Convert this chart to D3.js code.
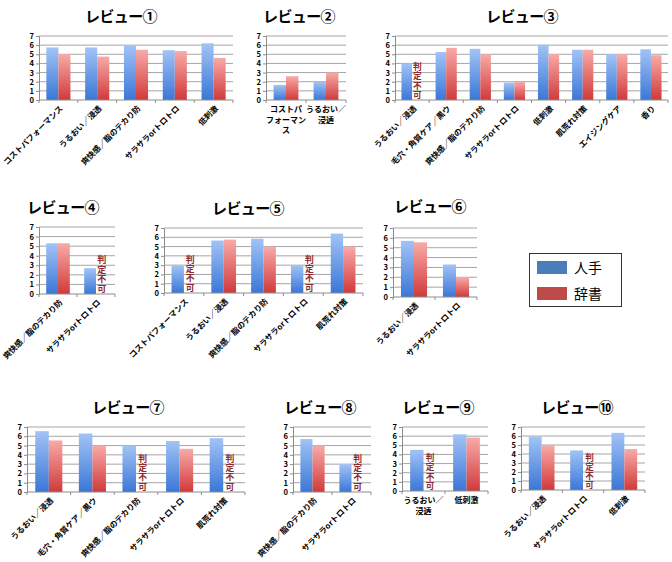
<!DOCTYPE html>
<html><head><meta charset="utf-8">
<script src="https://cdn.jsdelivr.net/npm/d3@7/dist/d3.min.js"></script>
<style>
body{margin:0;background:#fff;}
text{font-family:"Noto Sans CJK JP","Noto Sans",sans-serif;}
</style></head>
<body>
<svg id="chart" width="672" height="562"></svg>
<script>
// ---- data ----
const titles = ["レビュー①","レビュー②","レビュー③","レビュー④","レビュー⑤","レビュー⑥","レビュー⑦","レビュー⑧","レビュー⑨","レビュー⑩"];
const categories1 = ["コストパフォーマンス","うるおい／浸透","爽快感／脂のテカり防","サラサラorトロトロ","低刺激"];
const human1 = [5.75,5.75,6.0,5.45,6.2];
const dict1  = [5.0,4.75,5.5,5.35,4.6];
const categories2 = ["コストパフォーマンス","うるおい／浸透"];
const human2 = [1.65,2.0];
const dict2  = [2.6,3.0];
const categories3 = ["うるおい／浸透","毛穴・角質ケア／黒ウ","爽快感／脂のテカり防","サラサラorトロトロ","低刺激","肌荒れ対策","エイジングケア","香り"];
const human3 = [4.0,5.25,5.6,1.9,6.05,5.5,5.0,5.55];
const dict3  = [null,5.7,5.0,2.0,5.0,5.5,5.0,4.9];
const categories4 = ["爽快感／脂のテカり防","サラサラorトロトロ"];
const human4 = [5.3,2.7];
const dict4  = [5.3,null];
const categories5 = ["コストパフォーマンス","うるおい／浸透","爽快感／脂のテカり防","サラサラorトロトロ","肌荒れ対策"];
const human5 = [3.0,5.65,5.85,3.0,6.4];
const dict5  = [null,5.75,5.0,null,5.0];
const categories6 = ["うるおい／浸透","サラサラorトロトロ"];
const human6 = [5.7,3.3];
const dict6  = [5.55,2.0];
const categories7 = ["うるおい／浸透","毛穴・角質ケア／黒ウ","爽快感／脂のテカり防","サラサラorトロトロ","肌荒れ対策"];
const human7 = [6.55,6.3,5.0,5.5,5.8];
const dict7  = [5.55,5.0,null,4.65,null];
const categories8 = ["爽快感／脂のテカり防","サラサラorトロトロ"];
const human8 = [5.7,3.0];
const dict8  = [5.0,null];
const categories9 = ["うるおい／浸透","低刺激"];
const human9 = [4.5,6.2];
const dict9  = [null,5.85];
const categories10 = ["うるおい／浸透","サラサラorトロトロ","低刺激"];
const human10 = [5.95,4.4,6.35];
const dict10  = [5.0,null,4.55];
const yTicks = [0,1,2,3,4,5,6,7];
const seriesNames = ["人手","辞書"];
const undecidable = "判定不可";
const wrappedLabels = {"コストパフォーマンス":["コストパ","フォーマン","ス"],"うるおい／浸透":["うるおい／","浸透"]};

// ---- layout ----
const panels = [
  {cats:categories1,h:human1,d:dict1,x0:39,x1:233,yt:36,yb:100,tx:121,ty:22,wrap:false},
  {cats:categories2,h:human2,d:dict2,x0:266,x1:346,yt:36,yb:100,tx:299,ty:22,wrap:true},
  {cats:categories3,h:human3,d:dict3,x0:395,x1:668,yt:36,yb:100,tx:522,ty:22,wrap:false},
  {cats:categories4,h:human4,d:dict4,x0:39,x1:115,yt:227,yb:294,tx:63,ty:213,wrap:false},
  {cats:categories5,h:human5,d:dict5,x0:164,x1:363,yt:228,yb:293,tx:248,ty:214,wrap:false},
  {cats:categories6,h:human6,d:dict6,x0:393,x1:477,yt:228,yb:297,tx:430,ty:212,wrap:false},
  {cats:categories7,h:human7,d:dict7,x0:27,x1:245,yt:427,yb:492,tx:128,ty:413,wrap:false},
  {cats:categories8,h:human8,d:dict8,x0:293,x1:371,yt:427,yb:492,tx:320,ty:413,wrap:false},
  {cats:categories9,h:human9,d:dict9,x0:402,x1:488,yt:427,yb:491,tx:438,ty:413,wrap:true},
  {cats:categories10,h:human10,d:dict10,x0:521,x1:645,yt:427,yb:490,tx:577,ty:413,wrap:false}
];

const svg = d3.select("#chart");
const defs = svg.append("defs");
function grad(id, top, bottom){
  const g = defs.append("linearGradient").attr("id",id).attr("x1",0).attr("y1",0).attr("x2",0).attr("y2",1);
  g.append("stop").attr("offset","0%").attr("stop-color",top);
  g.append("stop").attr("offset","100%").attr("stop-color",bottom);
}
grad("gBlue","#a2c3f6","#3a77d6");
grad("gRed","#f8aaa8","#d03a3a");
const fills = ["url(#gBlue)","url(#gRed)"];

panels.forEach((p,i)=>{
  const g = svg.append("g");
  const y = d3.scaleLinear().domain([0,7]).range([p.yb,p.yt]);
  const x = d3.scaleBand().domain(p.cats).range([p.x0,p.x1]);
  const xs = d3.scaleBand().domain([0,1]).range([0,x.step()]).paddingInner(0).paddingOuter(0.61);

  // title
  g.append("text").attr("x",p.tx).attr("y",p.ty).attr("text-anchor","middle")
    .attr("font-size",15).attr("font-weight","bold").attr("letter-spacing",-0.6).text(titles[i]);

  // gridlines
  g.selectAll(".grid").data(yTicks.filter(t=>t>0)).join("line")
    .attr("x1",p.x0).attr("x2",p.x1).attr("y1",d=>y(d)).attr("y2",d=>y(d))
    .attr("stroke","#a6a6a6").attr("stroke-width",1);

  // y axis
  const ya = d3.axisLeft(y).tickValues(yTicks).tickSize(3).tickFormat(d3.format("d"));
  const yg = g.append("g").attr("transform",`translate(${p.x0},0)`).call(ya);
  yg.select(".domain").attr("stroke","#8c8c8c");
  yg.selectAll(".tick line").attr("stroke","#8c8c8c");
  yg.selectAll(".tick text").attr("font-size",7.6).attr("font-weight","bold").attr("fill","#000").attr("x",-5)
    .attr("font-family","'Liberation Sans',Arial,sans-serif");

  // bars
  const series = [p.h,p.d];
  series.forEach((vals,s)=>{
    g.selectAll(".b"+s).data(p.cats.map((c,k)=>({c,v:vals[k]})).filter(d=>d.v!==null)).join("rect")
      .attr("x",d=>x(d.c)+xs(s)).attr("width",xs.bandwidth())
      .attr("y",d=>y(d.v)).attr("height",d=>y(0)-y(d.v))
      .attr("fill",fills[s]);
  });

  // 判定不可 markers (vertical text)
  const step = (y(0)-y(4))/4;
  const fs = step*0.95;
  p.cats.forEach((c,k)=>{
    if(p.d[k]===null){
      const cx = x(c)+xs(1)+xs.bandwidth()/2;
      g.append("text").attr("x",cx).attr("y",y(0)-1-4*step+(step-fs)/2)
        .style("writing-mode","vertical-rl").style("text-orientation","upright")
        .attr("letter-spacing",step-fs)
        .attr("font-size",fs).attr("font-weight","bold").attr("fill","#8e2a2a").text(undecidable);
    }
  });

  // x axis
  const xg = g.append("g");
  xg.append("line").attr("x1",p.x0).attr("x2",p.x1).attr("y1",p.yb).attr("y2",p.yb).attr("stroke","#8c8c8c");
  const bounds = p.cats.map(c=>x(c)).concat([p.x1]);
  xg.selectAll(".xt").data(bounds).join("line")
    .attr("x1",d=>d).attr("x2",d=>d).attr("y1",p.yb).attr("y2",p.yb+3).attr("stroke","#8c8c8c");

  // x labels
  p.cats.forEach(c=>{
    const cx = x(c)+x.step()/2;
    if(p.wrap){
      const lines = wrappedLabels[c] || [c];
      const t = g.append("text").attr("text-anchor","middle").attr("font-size",8).attr("font-weight","bold");
      lines.forEach((ln,j)=>t.append("tspan").attr("x",cx).attr("y",p.yb+12+j*10.5).text(ln));
    } else {
      g.append("text").attr("text-anchor","end").attr("font-size",8).attr("font-weight","bold")
        .attr("transform",`translate(${cx+5},${p.yb+9}) rotate(-45)`).text(c);
    }
  });
});

// legend
const lg = svg.append("g");
lg.append("rect").attr("x",529.5).attr("y",253.5).attr("width",92).attr("height",53)
  .attr("fill","#fff").attr("stroke","#333").attr("stroke-width",1);
const legendColors = ["#4a7ebb","#be4b48"];
seriesNames.forEach((n,s)=>{
  lg.append("rect").attr("x",537).attr("y",261+s*26).attr("width",30).attr("height",13).attr("fill",legendColors[s]);
  lg.append("text").attr("x",574).attr("y",273+s*26).attr("font-size",14).text(n);
});
</script>
</body></html>
